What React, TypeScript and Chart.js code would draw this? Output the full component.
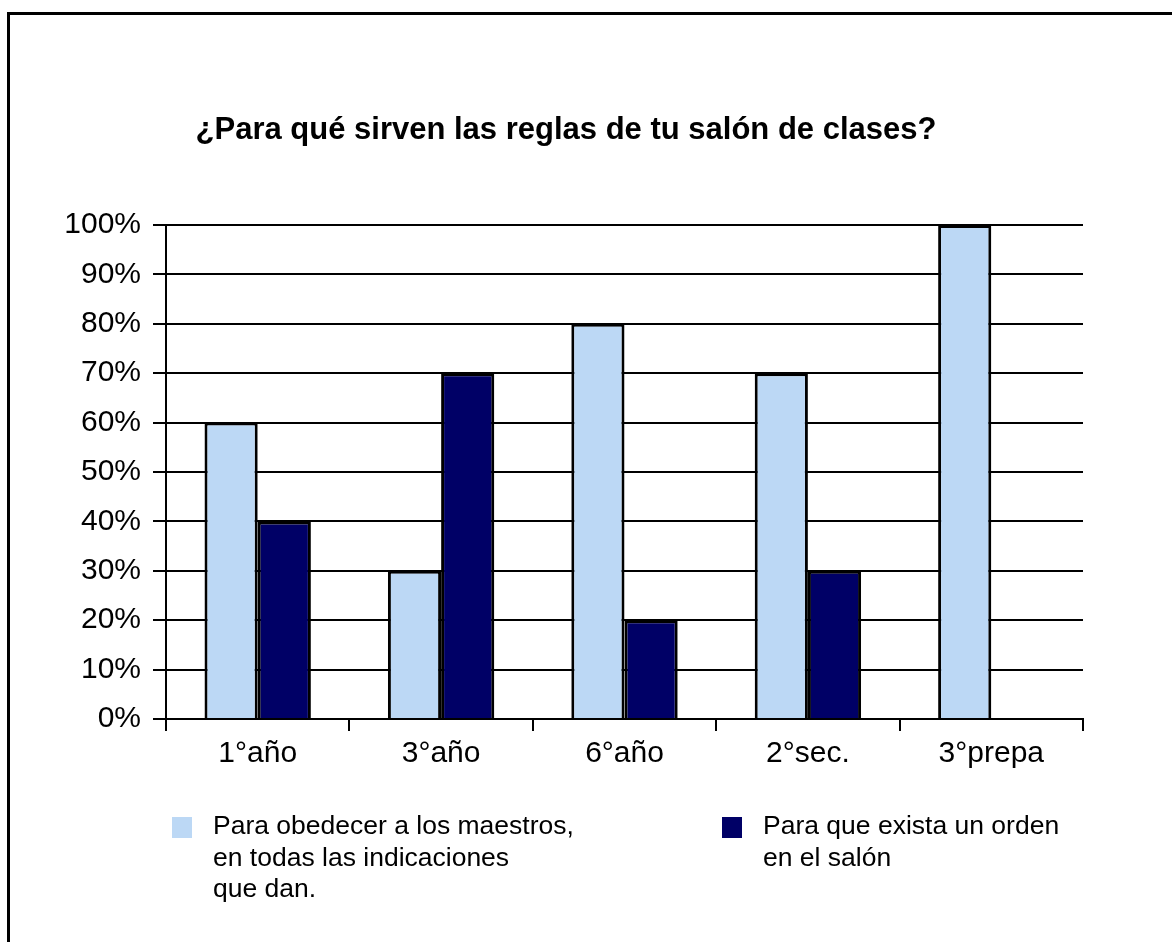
import React, { useEffect, useRef } from "react";
import { Chart, registerables } from "chart.js";

Chart.register(...registerables);

const titleText = "¿Para qué sirven las reglas de tu salón de clases?";
const categories = ["1°año", "3°año", "6°año", "2°sec.", "3°prepa"];
const seriesObedecer = [60, 30, 80, 70, 100];
const seriesOrden = [40, 70, 20, 30, 0];
const legendObedecer = ["Para obedecer a los maestros,", "en todas las indicaciones", "que dan."];
const legendOrden = ["Para que exista un orden", "en el salón"];
const colorLight = "#BCD8F5";
const colorDark = "#000066";
const FONT = "'Liberation Sans', Arial, sans-serif";

const decorPlugin = {
  id: "decor",
  afterDraw(chart: any) {
    const ctx = chart.ctx;
    const area = chart.chartArea;
    ctx.save();
    ctx.fillStyle = "#000";
    ctx.textBaseline = "middle";
    ctx.textAlign = "center";
    ctx.font = `bold 31px ${FONT}`;
    ctx.fillText(titleText, 566, 130);

    const items = [
      { lines: legendObedecer, color: colorLight, x: 172 },
      { lines: legendOrden, color: colorDark, x: 722 },
    ];
    ctx.textAlign = "left";
    ctx.font = `26.5px ${FONT}`;
    const y0 = area.bottom + 108;
    items.forEach((it) => {
      ctx.fillStyle = it.color;
      ctx.fillRect(it.x, y0 - 10, 20, 21);
      ctx.fillStyle = "#000";
      it.lines.forEach((ln, i) => {
        ctx.fillText(ln, it.x + 41, y0 + i * 31.5);
      });
    });
    ctx.restore();
  },
};

export default function App() {
  const ref = useRef<HTMLCanvasElement>(null);
  useEffect(() => {
    const chart = new Chart(ref.current!, {
      type: "bar",
      data: {
        labels: categories,
        datasets: [
          {
            label: legendObedecer.join(" "),
            data: seriesObedecer,
            backgroundColor: colorLight,
            borderColor: "#000",
            borderWidth: 3,
            borderSkipped: "bottom",
          },
          {
            label: legendOrden.join(" "),
            data: seriesOrden,
            backgroundColor: colorDark,
            borderColor: "#000",
            borderWidth: 3,
            borderSkipped: "bottom",
          },
        ],
      },
      options: {
        animation: false,
        responsive: false,
        layout: { padding: { top: 225, right: 89, left: 0, bottom: 0 } },
        plugins: {
          legend: { display: false },
          title: { display: false },
          tooltip: { enabled: false },
        },
        datasets: { bar: { categoryPercentage: 0.58, barPercentage: 1 } },
        scales: {
          x: {
            grid: { display: true, drawOnChartArea: false, color: "#000", lineWidth: 2, tickLength: 12, offset: true },
            border: { display: true, color: "#000", width: 2 },
            ticks: { color: "#000", font: { family: FONT, size: 30 }, padding: 5 },
            afterFit: (s: any) => { s.height = 223; },
          },
          y: {
            min: 0,
            max: 100,
            grid: { color: "#000", lineWidth: 2, tickLength: 13 },
            border: { display: true, color: "#000", width: 2 },
            ticks: {
              stepSize: 10,
              color: "#000",
              font: { family: FONT, size: 30 },
              padding: 12,
              callback: (v: any) => v + "%",
            },
            afterFit: (s: any) => { s.width = 166; },
          },
        },
      },
      plugins: [decorPlugin],
    });
    return () => chart.destroy();
  }, []);
  return (
    <div style={{ position: "fixed", left: 0, top: 0, width: 1172, height: 942, background: "#fff", overflow: "hidden" }}>
      <div style={{ position: "absolute", left: 7, top: 12, width: 1200, height: 1000, borderLeft: "3px solid #000", borderTop: "3px solid #000" }} />
      <canvas ref={ref} width={1172} height={942} style={{ position: "absolute", left: 0, top: 0 }} />
    </div>
  );
}
